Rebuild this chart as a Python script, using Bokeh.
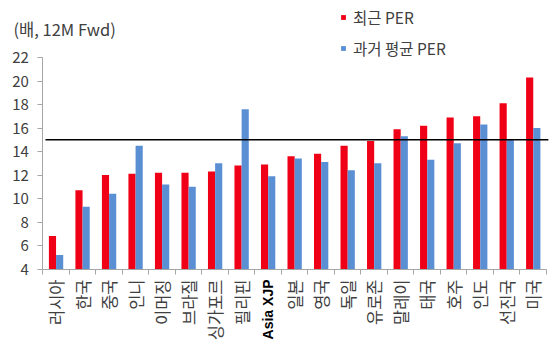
import math
from bokeh.plotting import figure
from bokeh.models import (ColumnDataSource, Range1d, FixedTicker, Legend,
                          LegendItem, Label)
from bokeh.transform import dodge
from bokeh.embed import file_html
from bokeh.resources import INLINE

categories = ["러시아", "한국", "중국", "인니", "이머징", "브라질", "싱가포르", "필리핀",
              "Asia XJP", "일본", "영국", "독일", "유로존", "말레이", "태국", "호주",
              "인도", "선진국", "미국"]
recent_per = [6.8, 10.7, 12.0, 12.1, 12.2, 12.2, 12.3, 12.8, 12.9, 13.6, 13.8,
              14.5, 14.9, 15.9, 16.2, 16.9, 17.0, 18.1, 20.3]
hist_per = [5.2, 9.3, 10.4, 14.5, 11.2, 11.0, 13.0, 17.6, 11.9, 13.4, 13.1,
            12.4, 13.0, 15.3, 13.3, 14.7, 16.3, 15.0, 16.0]
y_ticks = [4, 6, 8, 10, 12, 14, 16, 18, 20, 22]
reference_level = 15
unit_text = "(배, 12M Fwd)"
legend_names = ["최근 PER", "과거 평균 PER"]
highlight_category = "Asia XJP"

FONT = "Noto Sans CJK KR"
BOLD_FONT = "Liberation Sans"
RED = "#f00016"
BLUE = "#5b8fd4"
TXT = "#404040"
AXC = "#a6a6a6"

W, H = 554, 356
n = len(categories)
ymin, ymax = y_ticks[0], y_ticks[-1]

# plot area geometry (pixels) of the value/category region inside the canvas
left_px, right_px, top_px, bottom_px = 42.3, 546.0, 57.0, 268.5
cat_px = (right_px - left_px) / n
val_px = (bottom_px - top_px) / (ymax - ymin)
x_range = Range1d(-left_px / cat_px, n + (W - right_px) / cat_px)
y_range = Range1d(ymin - (H - bottom_px) / val_px, ymax + top_px / val_px)

centers = [i + 0.5 for i in range(n)]
src = ColumnDataSource(dict(x=centers, recent=recent_per, hist=hist_per, cat=categories))

p = figure(width=W, height=H, output_backend="svg", toolbar_location=None,
           x_range=x_range, y_range=y_range, min_border=0)
p.outline_line_color = None
p.xgrid.visible = False
p.ygrid.visible = False
p.background_fill_color = "white"
p.border_fill_color = "white"

bw = 0.27
r1 = p.vbar(x=dodge("x", -bw / 2, range=p.x_range), top="recent", bottom=ymin,
            width=bw, source=src, fill_color=RED, line_color=None)
r2 = p.vbar(x=dodge("x", bw / 2, range=p.x_range), top="hist", bottom=ymin,
            width=bw, source=src, fill_color=BLUE, line_color=None)

p.segment(x0=[0.1], x1=[n + 0.07], y0=[reference_level], y1=[reference_level],
          line_color="black", line_width=1.5)

# x axis (tick marks between categories; labels drawn as rotated text below)
xa = p.xaxis[0]
xa.fixed_location = ymin
xa.bounds = (0, n)
xa.ticker = FixedTicker(ticks=centers, minor_ticks=list(range(n + 1)))
xa.major_label_overrides = {c: "" for c in centers}
xa.major_tick_line_color = None
xa.major_tick_out = 0
xa.major_tick_in = 0
xa.minor_tick_line_color = AXC
xa.minor_tick_out = 5
xa.minor_tick_in = 0
xa.axis_line_color = AXC

is_hl = [c == highlight_category for c in categories]
label_src = ColumnDataSource(dict(
    x=centers,
    y=[ymin - 10.5 / val_px] * n,
    text=categories,
    font=[BOLD_FONT if h else FONT for h in is_hl],
    style=["bold" if h else "normal" for h in is_hl],
    color=["black" if h else TXT for h in is_hl],
    size=["14px" if h else "16.5px" for h in is_hl],
))
p.text(x="x", y="y", text="text", source=label_src, angle=math.pi / 2,
       text_align="right", text_baseline="middle", text_font="font",
       text_font_style="style", text_color="color", text_font_size="size")

# y axis
ya = p.yaxis[0]
ya.fixed_location = 0
ya.bounds = (ymin, ymax)
ya.ticker = FixedTicker(ticks=y_ticks)
ya.major_tick_line_color = AXC
ya.major_tick_out = 5
ya.major_tick_in = 0
ya.minor_tick_line_color = None
ya.axis_line_color = AXC
ya.major_label_text_font = FONT
ya.major_label_text_font_size = "15px"
ya.major_label_text_color = TXT
ya.major_label_standoff = 9

legend = Legend(items=[LegendItem(label=legend_names[0], renderers=[r1]),
                       LegendItem(label=legend_names[1], renderers=[r2])],
                location=(340, 297), orientation="vertical",
                glyph_width=6, glyph_height=6, label_standoff=7, label_height=20,
                spacing=9, padding=0, border_line_color=None,
                background_fill_alpha=0,
                label_text_font=FONT, label_text_font_size="15.5px",
                label_text_color=TXT)
p.add_layout(legend, "center")

p.add_layout(Label(x=13, y=H - 28, x_units="screen", y_units="screen", text=unit_text,
                   text_font=FONT, text_font_size="16.5px", text_color=TXT,
                   text_baseline="middle", text_align="left"))

open("out.html", "w").write(file_html(p, INLINE))
